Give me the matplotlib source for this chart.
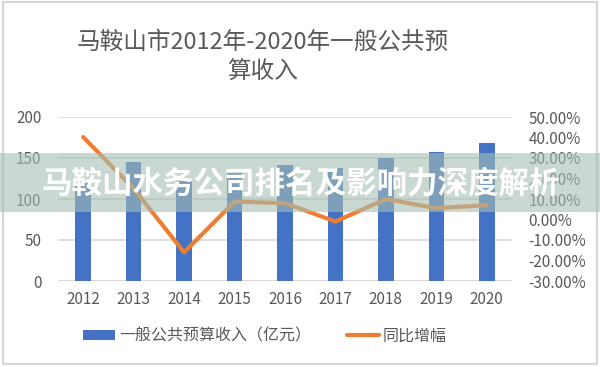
"""Ma'anshan general public budget revenue 2012-2020, bars + YoY growth line."""

import matplotlib
matplotlib.use("Agg")
import matplotlib.pyplot as plt
from matplotlib.lines import Line2D
from matplotlib.patches import Patch, Rectangle
from matplotlib.ticker import FuncFormatter

plt.rcParams["font.family"] = ["Noto Sans CJK SC", "DejaVu Sans"]

# --- data -------------------------------------------------------------------
YEARS = ["2012", "2013", "2014", "2015", "2016", "2017", "2018", "2019", "2020"]
REVENUE = [120, 145.5, 122, 132, 141, 137.5, 150, 157.5, 168.5]      # 亿元
GROWTH = [0.402, 0.15, -0.16, 0.087, 0.08, -0.01, 0.10, 0.055, 0.07]  # 同比

TITLE = "马鞍山市2012年-2020年一般公共预\n算收入"
BAR_LABEL = "一般公共预算收入（亿元）"
LINE_LABEL = "同比增幅"
BANNER = "马鞍山水务公司排名及影响力深度解析"

# --- palette -----------------------------------------------------------------
BLUE = "#4472c4"
ORANGE = "#ed7d31"
TEXT = "#595959"
GRID = "#d9d9d9"
BANNER_BG = "#a5beb2"

W, H = 600, 367


def fx(px):
    return px / W


def fy(py):
    return 1 - py / H


fig = plt.figure(figsize=(W / 100, H / 100), dpi=100)
fig.patch.set_facecolor("white")

ax = fig.add_axes([fx(58), fy(281), fx(512 - 58), (281 - 117) / H])
ax2 = ax.twinx()

xs = range(len(YEARS))
ax.bar(xs, REVENUE, width=0.31, color=BLUE, zorder=2)
ax2.plot(xs, GROWTH, color=ORANGE, linewidth=3, solid_capstyle="round",
         solid_joinstyle="round", zorder=3)

ax.set_xlim(-0.5, len(YEARS) - 0.5)
ax.set_ylim(0, 200)
ax.set_yticks(range(0, 201, 50))
ax2.set_ylim(-0.3, 0.5)
ax2.set_yticks([i / 10 for i in range(-3, 6)])
ax2.yaxis.set_major_formatter(FuncFormatter(lambda v, _: f"{v * 100:.2f}%"))
ax.set_xticks(list(xs), YEARS)

for a in (ax, ax2):
    for side in ("top", "right", "left", "bottom"):
        a.spines[side].set_visible(False)
    a.tick_params(length=0, colors=TEXT, labelsize=11)
ax.tick_params(axis="y", pad=12)
ax.tick_params(axis="x", pad=7)
ax2.tick_params(axis="y", pad=12)
ax.grid(axis="y", color=GRID, linewidth=1.2, zorder=0)
ax.set_axisbelow(True)
ax.axhline(0, color=GRID, linewidth=1.5, zorder=1)

fig.text(fx(263), fy(57), TITLE, ha="center", va="center", fontsize=17,
         color=TEXT, linespacing=1.4)

handles = [Patch(facecolor=BLUE, edgecolor="none"),
           Line2D([0], [0], color=ORANGE, linewidth=3, solid_capstyle="round")]
fig.legend(handles, [BAR_LABEL, LINE_LABEL], loc="center",
           bbox_to_anchor=(fx(265), fy(336)), ncol=2, frameon=False,
           fontsize=11.5, labelcolor=TEXT, handlelength=2.0, handleheight=0.55,
           handletextpad=0.25, columnspacing=2.2)

# outer frame
fig.patches.append(Rectangle((fx(3), fy(364)), fx(594), (364 - 2) / H,
                             transform=fig.transFigure, fill=False,
                             edgecolor="#d6d6d6", linewidth=1.5, zorder=5))

# overlay banner across the middle
fig.patches.append(Rectangle((0, fy(212)), 1, (212 - 153) / H,
                             transform=fig.transFigure, facecolor=BANNER_BG,
                             edgecolor="none", alpha=0.6, zorder=10))
fig.text(fx(301), fy(184), BANNER, ha="center", va="center", fontsize=22,
         fontweight="bold", color="white", zorder=11)

fig.savefig("out.png", dpi=100, facecolor="white")
